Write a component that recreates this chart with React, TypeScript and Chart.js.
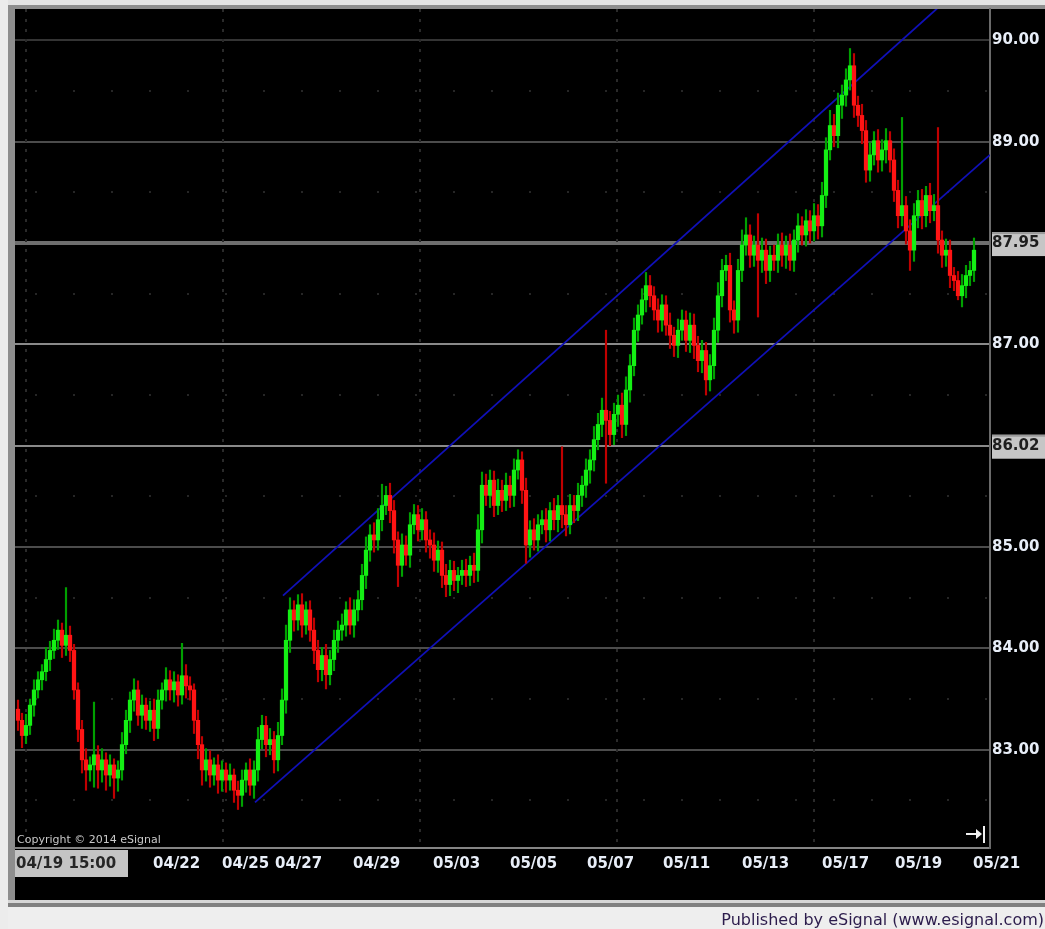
import React, { useEffect, useRef } from "react";
import { Chart, registerables } from "chart.js";

Chart.register(...registerables);

// ---------- data ----------
const firstOpen = 83.4;
const closes = [
  83.29, 83.14, 83.24, 83.44, 83.59, 83.69, 83.77, 83.89, 83.98, 84.08, 84.18, 84.03, 84.13, 83.98, 83.59, 83.2, 82.9, 82.8, 82.85, 82.95,
  82.8, 82.9, 82.75, 82.85, 82.72, 82.8, 83.05, 83.29, 83.49, 83.59, 83.34, 83.44, 83.29, 83.39, 83.21, 83.49, 83.59, 83.69, 83.59, 83.67,
  83.54, 83.73, 83.63, 83.59, 83.29, 83.05, 82.8, 82.9, 82.75, 82.85, 82.7, 82.8, 82.7, 82.75, 82.6, 82.55, 82.7, 82.8, 82.65, 82.8,
  83.1, 83.24, 83.05, 83.1, 82.9, 83.14, 83.49, 84.08, 84.38, 84.28, 84.43, 84.23, 84.38, 84.18, 83.98, 83.79, 83.93, 83.74, 83.89, 84.08,
  84.18, 84.23, 84.38, 84.23, 84.38, 84.48, 84.72, 84.97, 85.12, 85.07, 85.27, 85.41, 85.51, 85.36, 85.07, 84.82, 85.02, 84.92, 85.22, 85.32,
  85.17, 85.27, 85.07, 85.02, 84.87, 84.97, 84.72, 84.63, 84.77, 84.67, 84.72, 84.77, 84.72, 84.82, 84.77, 85.17, 85.61, 85.51, 85.66, 85.41,
  85.56, 85.46, 85.61, 85.51, 85.76, 85.86, 85.56, 85.02, 85.17, 85.07, 85.22, 85.27, 85.17, 85.36, 85.27, 85.41, 85.32, 85.22, 85.41, 85.36,
  85.51, 85.61, 85.76, 85.86, 86.06, 86.21, 86.35, 86.25, 86.11, 86.31, 86.4, 86.21, 86.55, 86.79, 87.14, 87.29, 87.44, 87.58, 87.48, 87.34,
  87.24, 87.39, 87.19, 87.09, 86.99, 87.14, 87.24, 87.04, 87.19, 86.99, 86.84, 86.94, 86.65, 86.79, 87.14, 87.48, 87.73, 87.78, 87.34, 87.24,
  87.73, 87.98, 88.08, 87.88, 87.98, 87.83, 87.93, 87.73, 87.88, 87.83, 87.98, 87.88, 87.98, 87.83, 88.03, 88.17, 88.08, 88.22, 88.12, 88.27,
  88.17, 88.47, 88.92, 89.16, 89.06, 89.36, 89.46, 89.61, 89.75, 89.36, 89.26, 89.11, 88.72, 88.87, 89.01, 88.82, 88.92, 89.01, 88.82, 88.52,
  88.27, 88.37, 88.12, 87.93, 88.27, 88.42, 88.27, 88.47, 88.32, 88.37, 88.03, 87.88, 87.93, 87.68, 87.63, 87.48, 87.58, 87.68, 87.73, 87.93,
];
// wick length above the body / below the body, in cents
const upWickCents = [
  9, 7, 11, 6, 10, 8, 7, 12, 9, 11, 10, 7, 47, 9, 6, 7, 9, 11, 8, 52,
  9, 11, 7, 10, 6, 9, 12, 10, 8, 11, 9, 10, 7, 9, 11, 10, 7, 12, 9, 10,
  7, 32, 11, 9, 6, 10, 8, 11, 9, 7, 10, 9, 7, 11, 6, 9, 10, 7, 11, 9,
  12, 10, 9, 11, 8, 13, 11, 15, 12, 9, 10, 11, 8, 9, 12, 10, 8, 11, 9, 10,
  9, 11, 8, 12, 10, 9, 11, 13, 10, 12, 11, 21, 9, 12, 10, 8, 11, 9, 12, 10,
  9, 11, 8, 10, 12, 9, 8, 11, 10, 9, 8, 10, 11, 9, 12, 15, 13, 11, 10, 9,
  11, 10, 12, 9, 11, 10, 8, 12, 9, 11, 10, 9, 11, 8, 12, 10, 58, 9, 11, 10,
  12, 9, 11, 10, 13, 11, 12, 79, 9, 11, 10, 12, 13, 11, 12, 10, 11, 13, 10, 9,
  11, 10, 9, 12, 8, 11, 10, 9, 12, 11, 9, 10, 8, 11, 12, 13, 11, 10, 12, 9,
  11, 15, 17, 10, 9, 31, 12, 11, 9, 10, 11, 12, 9, 11, 10, 12, 9, 11, 10, 12,
  11, 13, 12, 15, 11, 12, 10, 11, 17, 12, 9, 11, 10, 12, 9, 11, 10, 12, 9, 11,
  10, 87, 9, 11, 12, 10, 11, 9, 12, 11, 77, 9, 11, 10, 8, 9, 11, 10, 9, 12,
];
const downWickCents = [
  10, 12, 8, 9, 11, 8, 10, 9, 11, 8, 9, 12, 10, 11, 9, 12, 13, 20, 11, 22,
  18, 12, 15, 11, 20, 13, 10, 9, 12, 11, 10, 13, 9, 11, 12, 10, 9, 11, 10, 12,
  11, 9, 12, 10, 13, 14, 15, 11, 12, 10, 13, 11, 12, 10, 12, 14, 11, 12, 10, 13,
  11, 9, 12, 10, 13, 11, 9, 13, 12, 11, 10, 12, 9, 11, 13, 12, 11, 14, 10, 11,
  12, 10, 11, 9, 12, 11, 10, 13, 11, 12, 10, 11, 9, 12, 13, 21, 11, 10, 12, 9,
  11, 10, 12, 13, 11, 12, 12, 12, 11, 10, 12, 9, 11, 10, 12, 11, 13, 10, 12, 11,
  9, 11, 10, 12, 11, 9, 13, 18, 12, 10, 11, 9, 12, 11, 10, 12, 13, 11, 9, 12,
  10, 11, 12, 13, 11, 10, 12, 62, 11, 10, 12, 13, 11, 12, 10, 11, 9, 12, 11, 10,
  12, 11, 10, 13, 11, 12, 10, 11, 12, 13, 11, 12, 15, 11, 13, 12, 11, 10, 12, 13,
  12, 11, 10, 12, 11, 56, 12, 13, 11, 10, 12, 11, 13, 10, 11, 12, 10, 11, 12, 10,
  13, 11, 12, 10, 11, 12, 13, 11, 10, 12, 11, 13, 12, 11, 10, 12, 11, 13, 12, 11,
  12, 10, 13, 20, 11, 12, 13, 11, 12, 10, 13, 12, 11, 12, 10, 4, 11, 12, 10, 11,
];

const yTickValues = [90, 89, 88, 87, 86, 85, 84, 83];
const yTickLabels = ["90.00", "89.00", "87.95", "87.00", "86.02", "85.00", "84.00", "83.00"];
const boxedYTicks = [88, 86];
const halfLevels = [82.5, 83.5, 84.5, 85.5, 86.5, 87.5, 88.5, 89.5];

const xTickPositions = [-0.5, 33.75, 51, 64.25, 83.75, 103.75, 123, 142.25, 161.25, 181, 201, 219.25, 238.75];
const xTickLabels = ["04/19 15:00", "04/22", "04/25", "04/27", "04/29", "05/03", "05/05", "05/07", "05/11", "05/13", "05/17", "05/19", "05/21"];
const weekSeparators = [2, 51.25, 100.5, 149.75, 199];

const upperChannelX = [66.25, 235];
const upperChannelY = [84.52, 90.5];
const lowerChannelX = [59.25, 243];
const lowerChannelY = [82.48, 88.87];

// ---------- styles ----------
const UP_BODY = "#14f014";
const UP_WICK = "#00a000";
const DN_BODY = "#ff1414";
const DN_WICK = "#c00000";
const LABEL = "#e8eef8";

export default function App() {
  const ref = useRef<HTMLCanvasElement | null>(null);

  useEffect(() => {
    const canvas = ref.current;
    if (!canvas) return;

    const opens = [firstOpen, ...closes.slice(0, -1)];
    const bodies = closes.map((c, i) => ({ x: i, y: [opens[i], c] }));
    const wicks = closes.map((c, i) => ({
      x: i,
      y: [Math.min(opens[i], c) - downWickCents[i] / 100, Math.max(opens[i], c) + upWickCents[i] / 100],
    }));
    const isUp = closes.map((c, i) => c >= opens[i]);

    const framePlugin = {
      id: "frame",
      beforeDraw(chart: any) {
        const { ctx, width, height } = chart;
        ctx.save();
        ctx.fillStyle = "#000";
        ctx.fillRect(0, 0, width, height);
        ctx.fillStyle = "#e4e4e4";
        ctx.fillRect(0, 0, width, 5);
        ctx.fillStyle = "#8e8e8e";
        ctx.fillRect(0, 5, width, 4);
        ctx.fillStyle = "#ececec";
        ctx.fillRect(0, 0, 8, height);
        ctx.fillStyle = "#8e8e8e";
        ctx.fillRect(8, 5, 7, 895);
        ctx.fillStyle = "#d6d6d6";
        ctx.fillRect(8, 900, width, 3);
        ctx.fillStyle = "#808080";
        ctx.fillRect(8, 903, width, 4);
        ctx.fillStyle = "#eeeeee";
        ctx.fillRect(8, 907, width, height - 907);
        ctx.font = "16px 'DejaVu Sans'";
        ctx.fillStyle = "#2c1c4c";
        ctx.textAlign = "right";
        ctx.textBaseline = "alphabetic";
        ctx.fillText("Published by eSignal (www.esignal.com)", 1044, 925);

        const ys = chart.scales.y;
        boxedYTicks.forEach((v) => {
          const py = ys.getPixelForValue(v);
          ctx.fillStyle = "#c6c6c6";
          ctx.fillRect(992, py - 11, width - 992, 24);
          ctx.fillStyle = "#9a9a9a";
          ctx.fillRect(992, py - 11, width - 992, 2);
        });
        ctx.fillStyle = "#c4c4c4";
        ctx.fillRect(15, 850, 113, 27);
        ctx.restore();
      },
      beforeDatasetsDraw(chart: any) {
        const { ctx, chartArea } = chart;
        const xs = chart.scales.x;
        const ys = chart.scales.y;
        ctx.save();
        ctx.strokeStyle = "#262626";
        ctx.lineWidth = 2;
        ctx.setLineDash([2, 36]);
        halfLevels.forEach((v) => {
          const py = Math.round(ys.getPixelForValue(v));
          ctx.beginPath();
          ctx.moveTo(chartArea.left + 20, py);
          ctx.lineTo(chartArea.right, py);
          ctx.stroke();
        });
        ctx.setLineDash([3, 7]);
        ctx.strokeStyle = "#2a2a2a";
        weekSeparators.forEach((v) => {
          const px = Math.round(xs.getPixelForValue(v));
          ctx.beginPath();
          ctx.moveTo(px, chartArea.top);
          ctx.lineTo(px, chartArea.bottom);
          ctx.stroke();
        });
        ctx.restore();
      },
      afterDatasetsDraw(chart: any) {
        const { ctx } = chart;
        ctx.save();
        ctx.font = "11px 'DejaVu Sans'";
        ctx.fillStyle = "#c8c8c8";
        ctx.textAlign = "left";
        ctx.textBaseline = "alphabetic";
        ctx.fillText("Copyright \u00a9 2014 eSignal", 17, 843);
        ctx.strokeStyle = "#f0f0f0";
        ctx.fillStyle = "#f0f0f0";
        ctx.lineWidth = 2;
        ctx.beginPath();
        ctx.moveTo(966, 834);
        ctx.lineTo(980, 834);
        ctx.stroke();
        ctx.beginPath();
        ctx.moveTo(982, 834);
        ctx.lineTo(976, 829);
        ctx.lineTo(976, 839);
        ctx.closePath();
        ctx.fill();
        ctx.fillRect(983, 826, 2, 17);
        ctx.restore();
      },
    };

    const chart = new Chart(canvas, {
      type: "bar",
      data: {
        datasets: [
          {
            type: "line",
            data: upperChannelX.map((x, i) => ({ x, y: upperChannelY[i] })),
            borderColor: "#1010b8",
            borderWidth: 1.8,
            pointRadius: 0,
            order: 3,
          } as any,
          {
            type: "line",
            data: lowerChannelX.map((x, i) => ({ x, y: lowerChannelY[i] })),
            borderColor: "#1010b8",
            borderWidth: 1.8,
            pointRadius: 0,
            order: 3,
          } as any,
          {
            data: wicks as any,
            backgroundColor: isUp.map((u) => (u ? UP_WICK : DN_WICK)),
            barThickness: 1.5,
            grouped: false,
            borderWidth: 0,
            order: 2,
          },
          {
            data: bodies as any,
            backgroundColor: isUp.map((u) => (u ? UP_BODY : DN_BODY)),
            barThickness: 3.6,
            grouped: false,
            borderWidth: 0,
            minBarLength: 1,
            order: 1,
          },
        ],
      },
      options: {
        animation: false,
        responsive: false,
        devicePixelRatio: 1,
        events: [],
        layout: { padding: { left: 15, top: 9, right: 0, bottom: 0 } },
        plugins: { legend: { display: false }, tooltip: { enabled: false } },
        scales: {
          x: {
            type: "linear",
            min: -0.75,
            max: 243,
            offset: false,
            grid: { display: false, drawTicks: false },
            border: { display: true, color: "#858585", width: 2 },
            afterBuildTicks: (scale: any) => {
              scale.ticks = xTickPositions.map((value) => ({ value }));
            },
            afterFit: (scale: any) => {
              scale.height = 81;
              scale.paddingLeft = 0;
              scale.paddingRight = 0;
            },
            ticks: {
              autoSkip: false,
              maxRotation: 0,
              minRotation: 0,
              align: "start",
              padding: 7,
              font: { family: "'DejaVu Sans'", size: 15, weight: "bold" },
              color: (c: any) => (c.index === 0 ? "#262626" : LABEL),
              callback: (_v: any, i: number) => xTickLabels[i],
            },
          },
          y: {
            type: "linear",
            position: "right",
            min: 82.03,
            max: 90.31,
            grid: {
              drawTicks: false,
              color: (c: any) => {
                const v = c.tick ? c.tick.value : 0;
                if (v === 88) return "#6e6e6e";
                if (v === 87 || v === 86) return "#8a8a8a";
                if (v === 90) return "#343434";
                return "#4c4c4c";
              },
              lineWidth: (c: any) => (c.tick && c.tick.value === 88 ? 4 : 2),
            },
            border: { display: true, color: "#6a6a6a", width: 2 },
            afterBuildTicks: (scale: any) => {
              scale.ticks = yTickValues.map((value) => ({ value }));
            },
            afterFit: (scale: any) => {
              scale.width = 55;
              scale.paddingTop = 0;
              scale.paddingBottom = 0;
            },
            ticks: {
              autoSkip: false,
              padding: 2,
              font: { family: "'DejaVu Sans'", size: 15, weight: "bold" },
              color: (c: any) => (c.tick && boxedYTicks.includes(c.tick.value) ? "#1e1e1e" : LABEL),
              callback: (_v: any, i: number) => yTickLabels[i],
            },
          },
        },
      },
      plugins: [framePlugin],
    });

    return () => chart.destroy();
  }, []);

  return (
    <div style={{ position: "absolute", left: 0, top: 0, width: 1045, height: 929, background: "#000" }}>
      <canvas ref={ref} width={1045} height={929} style={{ display: "block" }} />
    </div>
  );
}
